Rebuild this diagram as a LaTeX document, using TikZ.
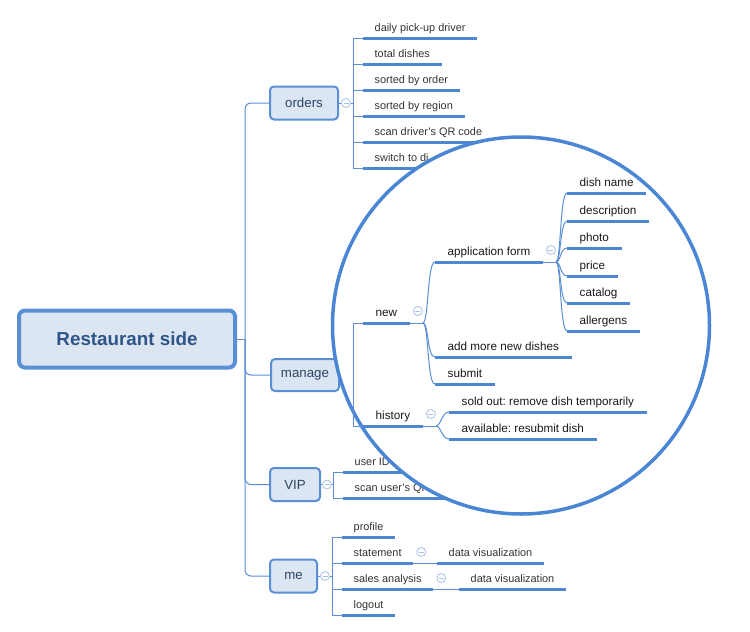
\documentclass[tikz,border=0pt]{standalone}
\usepackage{fontspec}
\setmainfont{Liberation Sans}
\frenchspacing
\definecolor{lineblue}{HTML}{5A8ED6}
\definecolor{ulblue}{HTML}{4D87D4}
\definecolor{boxfill}{HTML}{DCE6F2}
\definecolor{boxdraw}{HTML}{5B8FD5}
\definecolor{roottext}{HTML}{2F5588}
\definecolor{boxtext}{HTML}{2B4466}
\definecolor{markc}{HTML}{A9C1E8}
\definecolor{circc}{HTML}{4A86D3}
\begin{document}
\frenchspacing
\begin{tikzpicture}[x=1pt,y=-1pt,
 conn/.style={draw=lineblue, line width=1},
 ul/.style={draw=ulblue, line width=3},
 leafo/.style={anchor=south west, inner xsep=11.5, inner ysep=6, text depth=0pt, text=black!80, font=\fontsize{10.9}{13}\selectfont\frenchspacing},
 leafi/.style={anchor=south west, inner xsep=12.5, inner ysep=6, text depth=0pt, text=black!90, font=\fontsize{11.7}{14}\selectfont\frenchspacing},
 box/.style={draw=boxdraw, fill=boxfill, line width=2, rounded corners=4, inner sep=0, text=boxtext, font=\fontsize{13.3}{16}\selectfont},
 mk/.style={circle, draw=markc, fill=white, line width=0.8, minimum size=9, inner sep=0,
   path picture={\draw[markc, line width=0.8] ([xshift=-2.5pt]path picture bounding box.center) -- ([xshift=2.5pt]path picture bounding box.center);}}
]
\useasboundingbox (0,0) rectangle (750,632);

% ---------- outside part ----------
\node[box, line width=4, rounded corners=6, minimum width=216, minimum height=57,
      text=roottext, font=\fontsize{18.8}{22}\selectfont\bfseries] (root) at (127,339) {Restaurant side};
\node[box, minimum width=68, minimum height=33] (orders) at (304,103) {orders};
\node[box, minimum width=68, minimum height=32] (manage) at (305,375) {manage};
\node[box, minimum width=50, minimum height=33] (vip) at (295,484.5) {VIP};
\node[box, minimum width=47, minimum height=33] (me) at (293.5,576) {me};

\coordinate (trunk) at (245,339);
\draw[conn] (root.east) -- (trunk);
\draw[conn, rounded corners=6] (orders.west) -| (trunk) |- (me.west);
\draw[conn, rounded corners=6] (trunk) |- (manage.west);
\draw[conn, rounded corners=6] (trunk) |- (vip.west);

% orders leaves
\node[leafo] (o1) at (363,38) {daily pick-up driver};
\node[leafo] (o2) at (363,64) {total dishes};
\node[leafo] (o3) at (363,90) {sorted by order};
\node[leafo] (o4) at (363,116) {sorted by region};
\node[leafo] (o5) at (363,142) {scan driver's QR code};
\node[leafo] (o6) at (363,168) {switch to di};
\coordinate (ov) at (353,103);
\draw[conn] (orders.east) -- (ov);
\foreach \n in {o1,o2,o3,o4,o5,o6} {\draw[conn] (ov) |- (\n.south west); \draw[ul] (\n.south west) -- (\n.south east);}
\node[mk] at ([xshift=7]orders.east) {};

% VIP leaves
\node[leafo] (v1) at (343,472) {user ID};
\node[leafo] (v2) at (343,498) {scan user's QR code};
\coordinate (vv) at (333,484.5);
\draw[conn] (vip.east) -- (vv);
\foreach \n in {v1,v2} {\draw[conn] (vv) |- (\n.south west); \draw[ul] (\n.south west) -- (\n.south east);}
\node[mk] at ([xshift=6]vip.east) {};

% me leaves
\node[leafo] (m1) at (342,537) {profile};
\node[leafo] (m2) at (342,563) {statement};
\node[leafo] (m3) at (342,589) {sales analysis};
\node[leafo] (m4) at (342,615) {logout};
\node[leafo] (dv1) at (437,563) {data visualization};
\node[leafo] (dv2) at (459,589) {data visualization};
\coordinate (mv) at (332,576);
\draw[conn] (me.east) -- (mv);
\foreach \n in {m1,m2,m3,m4} {\draw[conn] (mv) |- (\n.south west);}
\draw[conn] (m2.south east) -- (dv1.south west);
\draw[conn] (m3.south east) -- (dv2.south west);
\foreach \n in {m1,m2,m3,m4,dv1,dv2} {\draw[ul] (\n.south west) -- (\n.south east);}
\node[mk] at ([xshift=7]me.east) {};
\node[mk] at ([xshift=8,yshift=11]m2.south east) {};
\node[mk] at ([xshift=8,yshift=11]m3.south east) {};

% ---------- magnifier ----------
\node[circle, draw=circc, fill=white, line width=3.5, minimum size=377, inner sep=0] (lens) at (521,325.5) {};

\node[leafi] (new) at (363,323) {new};
\node[leafi] (af) at (435,262) {application form};
\node[leafi] (add) at (435,357) {add more new dishes};
\node[leafi] (sub) at (435,384) {submit};
\node[leafi] (dn) at (567,193) {dish name};
\node[leafi] (desc) at (567,221) {description};
\node[leafi] (photo) at (567,248) {photo};
\node[leafi] (price) at (567,276) {price};
\node[leafi] (cat) at (567,303) {catalog};
\node[leafi] (all) at (567,331) {allergens};
\node[leafi] (hist) at (363,426) {history};
\node[leafi] (sold) at (449,412) {sold out: remove dish temporarily};
\node[leafi] (avail) at (449,439) {available: resubmit dish};

\coordinate (mg) at (353,375);
\draw[conn] (mg) |- (new.south west);
\draw[conn] (mg) |- (hist.south west);

\coordinate (nb) at ([xshift=13]new.south east);
\draw[conn] (new.south east) -- (nb);
\foreach \n in {af,add,sub} \draw[conn] (nb) .. controls +(6,0) and +(-8,0) .. (\n.south west);

\coordinate (ab) at ([xshift=13]af.south east);
\draw[conn] (af.south east) -- (ab);
\foreach \n in {dn,desc,photo,price,cat,all} \draw[conn] (ab) .. controls +(5,0) and +(-7,0) .. (\n.south west);

\coordinate (hb) at ([xshift=13]hist.south east);
\draw[conn] (hist.south east) -- (hb);
\foreach \n in {sold,avail} \draw[conn] (hb) .. controls +(5,0) and +(-7,0) .. (\n.south west);

\foreach \n in {new,af,add,sub,dn,desc,photo,price,cat,all,hist,sold,avail} \draw[ul] (\n.south west) -- (\n.south east);

\node[mk] at ([xshift=8,yshift=12]new.south east) {};
\node[mk] at ([xshift=8,yshift=12]af.south east) {};
\node[mk] at ([xshift=8,yshift=12]hist.south east) {};
\end{tikzpicture}
\end{document}
